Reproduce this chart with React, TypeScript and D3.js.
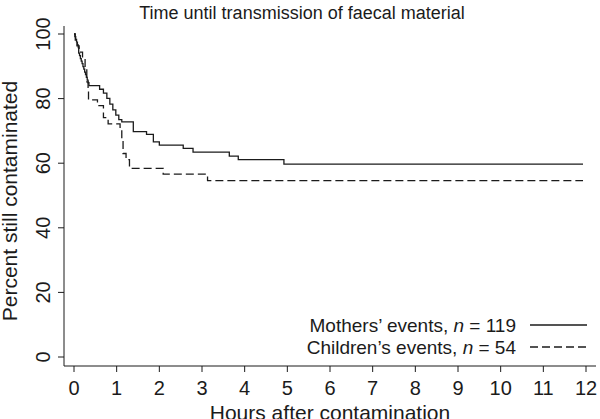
import React from "react";
import * as d3 from "d3";

const mothersTimes = [0, 0.02, 0.04, 0.06, 0.08, 0.1, 0.11, 0.13, 0.15, 0.17, 0.19, 0.21, 0.23, 0.25, 0.27, 0.29, 0.31, 0.33, 0.35, 0.6, 0.69, 0.77, 0.84, 0.91, 0.98, 1.05, 1.12, 1.39, 1.7, 1.86, 2.0, 2.56, 2.79, 3.64, 3.85, 4.92, 11.93];
const mothersValues = [100, 99.2, 98.3, 97.5, 96.6, 95.8, 94.1, 93.3, 92.4, 91.6, 90.8, 89.9, 89.1, 88.2, 87.4, 86.6, 85.7, 84.9, 84.0, 82.9, 81.7, 80.1, 78.3, 76.5, 74.9, 73.5, 72.8, 69.8, 68.9, 66.6, 65.6, 64.6, 63.4, 62.2, 61.1, 59.7, 59.7];

const childrenTimes = [0, 0.03, 0.07, 0.12, 0.2, 0.26, 0.3, 0.33, 0.34, 0.55, 0.69, 0.8, 1.08, 1.12, 1.15, 1.22, 1.3, 2.09, 3.13, 11.93];
const childrenValues = [100, 98.1, 96.3, 94.4, 92.6, 88.9, 85.2, 83.3, 79.6, 77.8, 74.1, 72.2, 70.4, 66.7, 63.0, 61.1, 58.4, 56.6, 54.6, 54.6];

const xTicks = [0, 1, 2, 3, 4, 5, 6, 7, 8, 9, 10, 11, 12];
const yTicks = [0, 20, 40, 60, 80, 100];

const titleText = "Time until transmission of faecal material";
const xTitle = "Hours after contamination";
const yTitle = "Percent still contaminated";
const legendLabels = ["Mothers’ events, ", "Children’s events, "];
const legendCounts = ["119", "54"];

export default function App() {
  const W = 600;
  const H = 419;
  const x = d3.scaleLinear().domain([0, 12]).range([74, 586]);
  const y = d3.scaleLinear().domain([0, 100]).range([357, 34]);
  const line = d3
    .line<[number, number]>()
    .x((d) => x(d[0]))
    .y((d) => y(d[1]))
    .curve(d3.curveStepAfter);
  const mothers = mothersTimes.map((t, i) => [t, mothersValues[i]] as [number, number]);
  const children = childrenTimes.map((t, i) => [t, childrenValues[i]] as [number, number]);
  const ink = "#1b1b1b";
  const font = "'Liberation Sans', Arial, Helvetica, sans-serif";
  const axisX0 = 64;
  const axisY0 = 366;

  return (
    <svg
      width={W}
      height={H}
      style={{ position: "absolute", left: 0, top: 0, background: "#fff" }}
      fontFamily={font}
    >
      <rect x={0} y={0} width={W} height={H} fill="#fff" />
      <text x={302} y={19} fontSize={18} textAnchor="middle" fill={ink}>
        {titleText}
      </text>
      {/* axes */}
      <line x1={axisX0} x2={axisX0} y1={26} y2={axisY0} stroke={ink} strokeWidth={1} />
      <line x1={axisX0} x2={596} y1={axisY0} y2={axisY0} stroke={ink} strokeWidth={1} />
      {yTicks.map((t) => (
        <g key={"y" + t}>
          <line x1={axisX0 - 6} x2={axisX0} y1={y(t)} y2={y(t)} stroke={ink} strokeWidth={1} />
          <text
            transform={`translate(50,${y(t)}) rotate(-90)`}
            fontSize={20}
            textAnchor="middle"
            fill={ink}
          >
            {t}
          </text>
        </g>
      ))}
      {xTicks.map((t) => (
        <g key={"x" + t}>
          <line x1={x(t)} x2={x(t)} y1={axisY0} y2={axisY0 + 6} stroke={ink} strokeWidth={1} />
          <text x={x(t)} y={395} fontSize={20} textAnchor="middle" fill={ink}>
            {t}
          </text>
        </g>
      ))}
      <text x={330} y={420} fontSize={21} textAnchor="middle" fill={ink}>
        {xTitle}
      </text>
      <text
        transform={`translate(17,${201}) rotate(-90)`}
        fontSize={21}
        textAnchor="middle"
        fill={ink}
      >
        {yTitle}
      </text>
      {/* curves */}
      <path d={line(children) || ""} fill="none" stroke={ink} strokeWidth={1.3} strokeDasharray="8,4" />
      <path d={line(mothers) || ""} fill="none" stroke={ink} strokeWidth={1.3} />
      {/* legend */}
      {legendLabels.map((lab, i) => {
        const ly = 325 + i * 22;
        return (
          <g key={"leg" + i}>
            <text x={516} y={ly + 7} fontSize={19} textAnchor="end" fill={ink}>
              {lab}
              <tspan fontStyle="italic">n</tspan>
              {" = " + legendCounts[i]}
            </text>
            <line
              x1={530}
              x2={587}
              y1={ly}
              y2={ly}
              stroke={ink}
              strokeWidth={1.3}
              strokeDasharray={i === 1 ? "8,4" : undefined}
            />
          </g>
        );
      })}
    </svg>
  );
}
